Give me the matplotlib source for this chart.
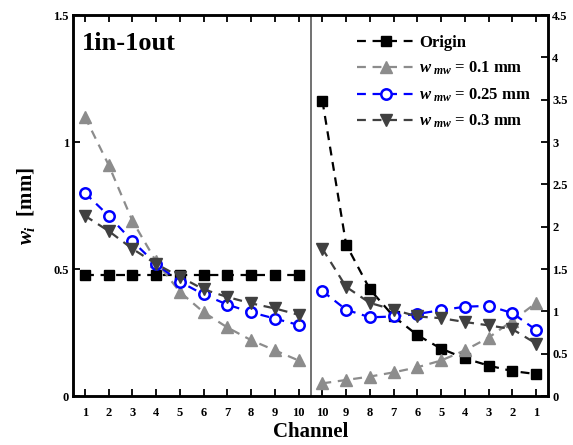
import matplotlib
matplotlib.use("Agg")
import matplotlib.pyplot as plt
import numpy as np

plt.rcParams['font.family'] = ['Liberation Serif', 'DejaVu Serif']
plt.rcParams['font.weight'] = 'bold'
plt.rcParams['mathtext.fontset'] = 'custom'
plt.rcParams['mathtext.rm'] = 'Liberation Serif:bold'
plt.rcParams['mathtext.it'] = 'Liberation Serif:italic:bold'
plt.rcParams['mathtext.bf'] = 'Liberation Serif:bold'

# Left panel (1..10), left axis
left_channels = [1, 2, 3, 4, 5, 6, 7, 8, 9, 10]
left_origin = [0.475, 0.475, 0.475, 0.475, 0.475, 0.475, 0.475, 0.475, 0.475, 0.475]
left_w01 = [1.10, 0.91, 0.69, 0.53, 0.41, 0.33, 0.27, 0.22, 0.18, 0.14]
left_w025 = [0.80, 0.71, 0.61, 0.52, 0.45, 0.40, 0.36, 0.33, 0.305, 0.28]
left_w03 = [0.71, 0.65, 0.58, 0.52, 0.47, 0.42, 0.39, 0.365, 0.345, 0.32]

# Right panel (10..1), right axis
right_channels = [10, 9, 8, 7, 6, 5, 4, 3, 2, 1]
right_origin = [3.49, 1.79, 1.26, 0.94, 0.72, 0.56, 0.445, 0.36, 0.295, 0.26]
right_w01 = [0.15, 0.19, 0.23, 0.28, 0.34, 0.42, 0.54, 0.69, 0.89, 1.10]
right_w025 = [1.24, 1.02, 0.93, 0.94, 0.97, 1.015, 1.055, 1.066, 0.98, 0.78]
right_w03 = [1.74, 1.29, 1.10, 1.02, 0.94, 0.92, 0.875, 0.835, 0.79, 0.62]

labels = ['Origin', r'$w_{\ mw}$ = 0.1 mm', r'$w_{\ mw}$ = 0.25 mm', r'$w_{\ mw}$ = 0.3 mm']
colors = ['#000000', '#8c8c8c', '#0000ff', '#404040']
markers = ['s', '^', 'o', 'v']
msizes = [6.5, 9, 7.5, 9]

fig = plt.figure(figsize=(5.73, 4.45), dpi=100)
ax = fig.add_axes([0.1274, 0.110, 0.829, 0.856])
ax2 = ax.twinx()

n = len(left_channels)
xl = np.arange(1, n + 1)
xr = np.arange(n + 1, 2 * n + 1)

left_sets = [left_origin, left_w01, left_w025, left_w03]
right_sets = [right_origin, right_w01, right_w025, right_w03]
handles = []
for i in range(4):
    kw = dict(color=colors[i], marker=markers[i], markersize=msizes[i], linestyle=(0, (4, 3)),
              linewidth=1.6)
    if markers[i] == 'o':
        kw.update(markerfacecolor='white', markeredgecolor=colors[i], markeredgewidth=1.8)
    else:
        kw.update(markerfacecolor=colors[i], markeredgecolor=colors[i])
    h, = ax.plot(xl, left_sets[i], **kw)
    ax2.plot(xr, right_sets[i], **kw)
    handles.append(h)

ax.axvline(n + 0.5, color='#666666', linewidth=1.3)

ax.set_xlim(0.5, 2 * n + 0.5)
ax.set_ylim(0, 1.5)
ax2.set_ylim(0, 4.5)

ax.set_xticks(list(xl) + list(xr))
ax.set_xticklabels([str(c) for c in left_channels] + [str(c) for c in right_channels],
                   fontsize=9, fontweight='bold')
ax.set_yticks([0, 0.5, 1, 1.5])
ax.set_yticklabels(['0', '0.5', '1', '1.5'], fontsize=9, fontweight='bold')
r_ticks = [0, 0.5, 1, 1.5, 2, 2.5, 3, 3.5, 4, 4.5]
ax2.set_yticks(r_ticks)
ax2.set_yticklabels(['0', '0.5', '1', '1.5', '2', '2.5', '3', '3.5', '4', '4.5'],
                    fontsize=9, fontweight='bold')

ax.tick_params(axis='x', direction='in', top=True, length=5, width=1.3, pad=8)
ax.tick_params(axis='y', direction='in', length=5, width=1.3, pad=3)
ax2.tick_params(axis='y', direction='in', length=5, width=1.3, pad=3)

for a in (ax, ax2):
    for s in a.spines.values():
        s.set_linewidth(1.8)

ax.set_xlabel('Channel', fontsize=15, fontweight='bold', labelpad=2)
ax.set_ylabel(r'$w_i$  [mm]', fontsize=15, fontweight='bold', labelpad=12)

ax.text(0.018, 0.955, '1in-1out', transform=ax.transAxes, fontsize=19,
        fontweight='bold', va='top', ha='left')

leg = ax2.legend(handles, labels, loc='upper right', bbox_to_anchor=(0.985, 0.975),
                 frameon=False, fontsize=12, handlelength=3.4, labelspacing=0.55,
                 handletextpad=0.3, borderaxespad=0.2)
for t in leg.get_texts():
    t.set_fontweight('bold')

fig.savefig('out.png', dpi=100)
